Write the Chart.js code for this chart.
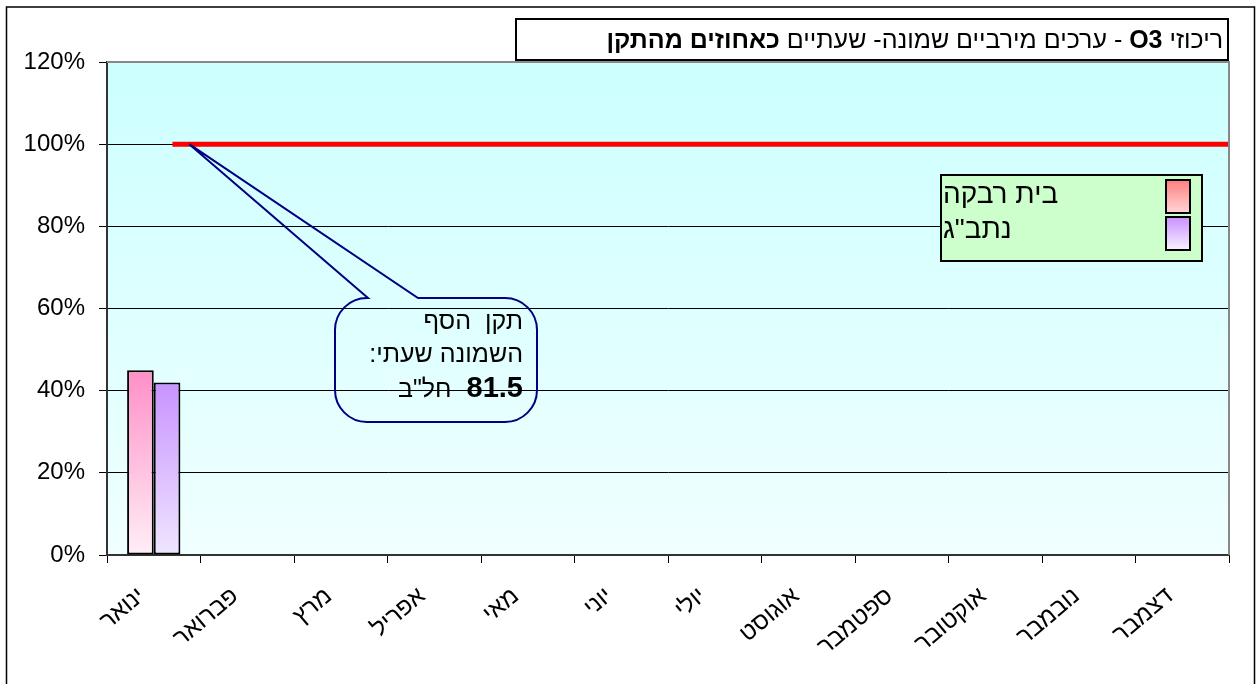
<!DOCTYPE html>
<html>
<head>
<meta charset="utf-8">
<script src="https://cdn.jsdelivr.net/npm/chart.js@4.4.0/dist/chart.umd.min.js"></script>
<style>
  html, body { margin: 0; padding: 0; background: #fff; }
  #wrap { width: 1256px; height: 684px; position: relative; }
</style>
</head>
<body>
<div id="wrap"><canvas id="o3Chart"></canvas></div>
<script>
// months (x axis)
const months = ["ינואר", "פברואר", "מרץ", "אפריל", "מאי", "יוני", "יולי", "אוגוסט", "ספטמבר", "אוקטובר", "נובמבר", "דצמבר"];

// % of the standard, per station
const beitRivka = [45, null, null, null, null, null, null, null, null, null, null, null];
const natbag = [42, null, null, null, null, null, null, null, null, null, null, null];

// the 100% standard line, x as a (fractional) month index on the category axis
const standardLine = [{ x: 0.2, y: 100 }, { x: 11.5, y: 100 }];
const calloutAt = { x: 0.38, y: 100 };

const seriesLabels = ["בית רבקה", 'נתב"ג'];
const yTicks = [0, 20, 40, 60, 80, 100, 120];

const FONT = "'Liberation Sans', Arial, sans-serif";

function barGradient(top, bottom) {
  return function (ctx) {
    const chart = ctx.chart;
    const area = chart.chartArea;
    if (!area || ctx.parsed == null || ctx.parsed.y == null) return top;
    const y = chart.scales.y.getPixelForValue(ctx.parsed.y);
    const g = chart.ctx.createLinearGradient(0, y, 0, area.bottom);
    g.addColorStop(0, top);
    g.addColorStop(1, bottom);
    return g;
  };
}

// frame + plot background
const backgroundPlugin = {
  id: "bg",
  beforeDraw(chart) {
    const c = chart.ctx;
    const a = chart.chartArea;
    c.save();
    c.fillStyle = "#fff";
    c.fillRect(0, 0, chart.width, chart.height);
    c.strokeStyle = "#000";
    c.lineWidth = 1.5;
    c.strokeRect(6.5, 7, 1248, 700);
    const g = c.createLinearGradient(0, a.top, 0, a.bottom);
    g.addColorStop(0, "#ccffff");
    g.addColorStop(1, "#f0ffff");
    c.fillStyle = g;
    c.fillRect(a.left, a.top, a.right - a.left, a.bottom - a.top);
    c.restore();
  },
  afterDraw(chart) {
    const c = chart.ctx;
    const a = chart.chartArea;
    c.save();
    c.strokeStyle = "#888";
    c.lineWidth = 2;
    c.beginPath();
    c.moveTo(a.left, a.top);
    c.lineTo(a.right, a.top);
    c.lineTo(a.right, a.bottom);
    c.stroke();
    c.restore();
  },
};

// title box, legend box and callout
const overlayPlugin = {
  id: "overlay",
  afterDraw(chart) {
    const c = chart.ctx;
    c.save();

    // title
    c.fillStyle = "#fff";
    c.fillRect(516, 19, 712, 41);
    c.strokeStyle = "#000";
    c.lineWidth = 2;
    c.strokeRect(516, 19, 712, 41);
    const parts = [
      ["ריכוזי ", false],
      ["O3", true],
      [" - ערכים מירביים שמונה- שעתיים ", false],
      ["כאחוזים מהתקן", true],
    ];
    let x = 1223;
    c.fillStyle = "#000";
    c.textBaseline = "alphabetic";
    c.textAlign = "right";
    c.direction = "rtl";
    parts.forEach(([t, bold]) => {
      c.font = (bold ? "bold " : "") + "25px " + FONT;
      c.fillText(t, x, 48);
      x -= c.measureText(t).width;
    });

    // legend
    c.direction = "ltr";
    c.fillStyle = "#ccffcc";
    c.fillRect(941, 175, 261, 86);
    c.strokeStyle = "#000";
    c.lineWidth = 2;
    c.strokeRect(941, 175, 261, 86);
    const legendSwatch = [["#ff7f7f", "#ffd6d6"], ["#c890ff", "#f8f2ff"]];
    seriesLabels.forEach((lab, i) => {
      const sy = 180 + i * 37;
      const g = c.createLinearGradient(0, sy, 0, sy + 33);
      g.addColorStop(0, legendSwatch[i][0]);
      g.addColorStop(1, legendSwatch[i][1]);
      c.fillStyle = g;
      c.fillRect(1166, sy, 24, 33);
      c.strokeStyle = "#000";
      c.lineWidth = 2;
      c.strokeRect(1166, sy, 24, 33);
      c.fillStyle = "#000";
      c.font = "28px " + FONT;
      c.textAlign = "left";
      c.fillText(lab, 943, 203 + i * 35);
    });

    // callout pointing at the standard line
    const tipX = chart.scales.x.getPixelForValue(calloutAt.x);
    const tipY = chart.scales.y.getPixelForValue(calloutAt.y);
    const L = 335, T = 298, R = 537, B = 422, r = 32;
    c.beginPath();
    c.moveTo(L + r, T);
    c.lineTo(368, T);
    c.lineTo(tipX, tipY);
    c.lineTo(418, T);
    c.lineTo(R - r, T);
    c.arcTo(R, T, R, T + r, r);
    c.lineTo(R, B - r);
    c.arcTo(R, B, R - r, B, r);
    c.lineTo(L + r, B);
    c.arcTo(L, B, L, B - r, r);
    c.lineTo(L, T + r);
    c.arcTo(L, T, L + r, T, r);
    c.closePath();
    c.strokeStyle = "#000080";
    c.lineWidth = 2;
    c.stroke();

    c.save();
    c.beginPath();
    c.rect(L, T, R - L, B - T - 5);
    c.clip();
    c.fillStyle = "#000";
    c.textAlign = "right";
    c.direction = "rtl";
    c.font = "25px " + FONT;
    c.fillText("תקן  הסף", 523, 329);
    c.fillText("השמונה שעתי:", 523, 362);
    c.font = "bold 29px " + FONT;
    c.fillText("81.5", 523, 397);
    const w = c.measureText("81.5").width;
    c.font = "25px " + FONT;
    c.fillText('חל"ב', 523 - w - 15, 397);
    c.restore();

    c.restore();
  },
};

const ctx = document.querySelector("#o3Chart");

new Chart(ctx, {
  data: {
    labels: months,
    datasets: [
      {
        type: "bar",
        label: seriesLabels[0],
        data: beitRivka,
        backgroundColor: barGradient("#ff8fc8", "#ffeef6"),
        borderColor: "#000",
        borderWidth: 2,
        borderSkipped: false,
        categoryPercentage: 0.57,
        barPercentage: 1.0,
      },
      {
        type: "bar",
        label: seriesLabels[1],
        data: natbag,
        backgroundColor: barGradient("#c893ff", "#efe6ff"),
        borderColor: "#000",
        borderWidth: 2,
        borderSkipped: false,
        categoryPercentage: 0.57,
        barPercentage: 1.0,
      },
      {
        type: "line",
        label: "תקן",
        data: standardLine,
        parsing: false,
        borderColor: "#ff0000",
        borderWidth: 5,
        pointRadius: 0,
        fill: false,
      },
    ],
  },
  options: {
    responsive: true,
    maintainAspectRatio: false,
    animation: false,
    layout: {
      padding: { left: 0, top: 62, right: 27, bottom: 0 },
    },
    scales: {
      x: {
        type: "category",
        offset: true,
        border: { color: "#333", width: 2 },
        grid: {
          offset: true,
          drawOnChartArea: false,
          drawTicks: true,
          tickLength: 8,
          color: "#000",
        },
        ticks: {
          color: "#000",
          font: { family: FONT, size: 24 },
          minRotation: 40,
          maxRotation: 40,
          autoSkip: false,
          padding: 19,
          labelOffset: -12,
        },
        afterFit(scale) {
          scale.height = 129;
        },
      },
      y: {
        min: 0,
        max: 120,
        afterBuildTicks(scale) {
          scale.ticks = yTicks.map((v) => ({ value: v }));
        },
        border: { color: "#333", width: 2 },
        grid: {
          color: "#000",
          lineWidth: 1,
          tickLength: 8,
        },
        ticks: {
          color: "#000",
          font: { family: FONT, size: 24 },
          padding: 14,
          callback: (v) => v + "%",
        },
        afterFit(scale) {
          scale.width = 107;
        },
      },
    },
    plugins: {
      legend: { display: false },
      title: { display: false },
      tooltip: { enabled: false },
    },
  },
  plugins: [backgroundPlugin, overlayPlugin],
});
</script>
</body>
</html>
